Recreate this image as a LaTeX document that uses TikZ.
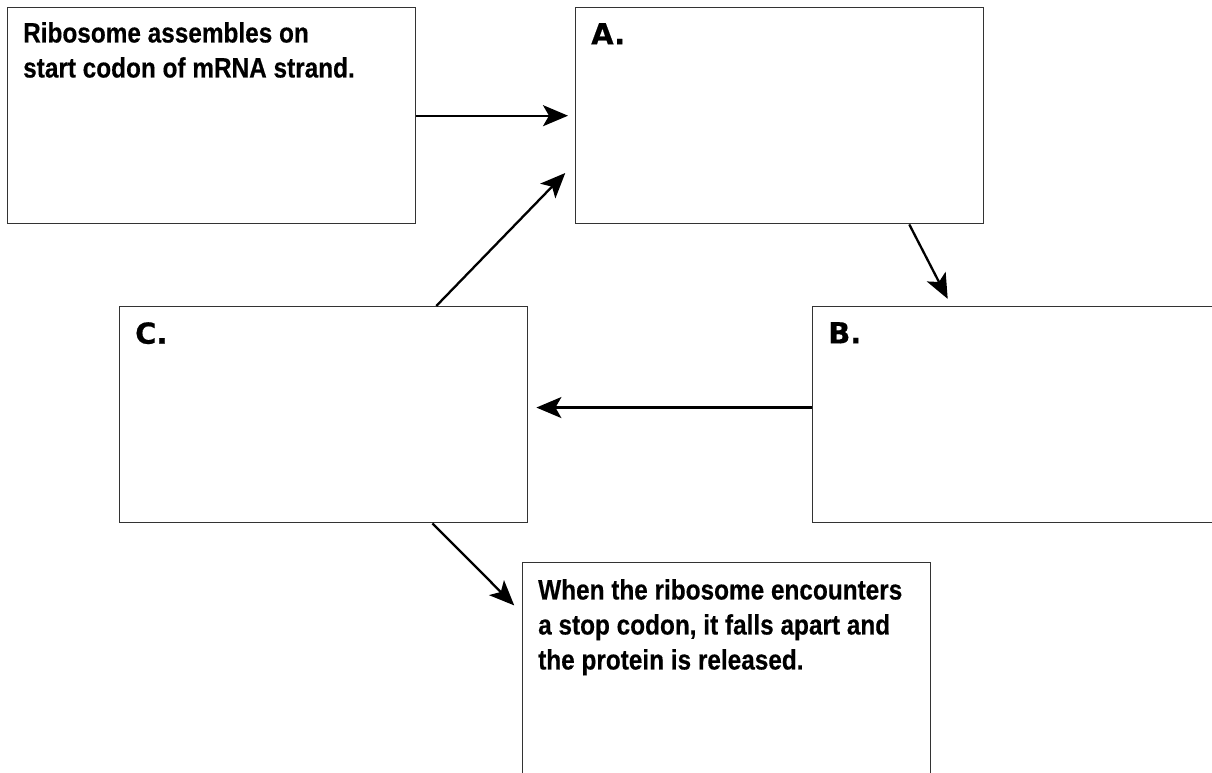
\documentclass[tikz,border=0pt]{standalone}
\usepackage{fontspec}
\setmainfont{Liberation Sans}
\newfontfamily\bodyfont[FakeStretch=0.87,FakeBold=0.4]{Liberation Sans}
\newfontfamily\labelfont[FakeBold=0.5]{DejaVu Sans}
\usepackage{tikz}
\usetikzlibrary{
    arrows.meta,
    positioning,
    calc
}
\tikzset{
    flowtip /.tip = {Stealth[
      length=25pt,
      width=21pt,
      inset=6pt
    ]}
  }
\tikzset{
    stepbox/.style = {rectangle, draw=black!80, line width=1.4pt,
      minimum width=408pt, minimum height=216pt,
      inner sep=0pt, anchor=north west},
    boxtext/.style = {inner sep=0pt, align=left,
      font=\bodyfont\bfseries\fontsize{28}{35}\selectfont},
    boxlabel/.style = {inner sep=0pt,
      font=\labelfont\bfseries\fontsize{29}{35}\selectfont},
    flow/.style = {-flowtip, line width=2.3pt}
  }

\begin{document}
\begin{tikzpicture}[x=1pt,y=-1pt]

\useasboundingbox (0,0) rectangle (1212,773);
\clip (0,0) rectangle (1212,773);

\node[stepbox] at (7,7) (start) {};
\node[boxtext, below right=15pt and 16pt of start.north west]
  (start_text) {Ribosome assembles on\\start codon of mRNA strand.};

\node[stepbox] at (575,7) (step_a) {};
\node[boxlabel, below right=16pt and 16pt of step_a.north west]
  (label_a) {A.};

\node[stepbox] at (812,306) (step_b) {};
\node[boxlabel, below right=16pt and 16pt of step_b.north west]
  (label_b) {B.};

\node[stepbox] at (119,306) (step_c) {};
\node[boxlabel, below right=16pt and 16pt of step_c.north west]
  (label_c) {C.};

\node[stepbox, minimum height=250pt] at (522,562) (finish) {};
\node[boxtext, below right=17pt and 16pt of finish.north west]
  (finish_text) {When the ribosome encounters\\a stop codon, it falls apart and\\the protein is released.};

\draw[flow, shorten >=7pt] (start.east) -- (step_a.west);
\draw[flow, shorten >=8pt] (step_a.-40.6) -- (step_b.121.4);
\draw[flow, shorten >=8pt] (step_b.178) -- (step_c.2);
\draw[flow, shorten >=14pt] (step_c.44.7) -- (step_a.-167.3);
\draw[flow, shorten >=11pt] (step_c.-45.5) -- (finish.160.8);

\end{tikzpicture}
\end{document}
